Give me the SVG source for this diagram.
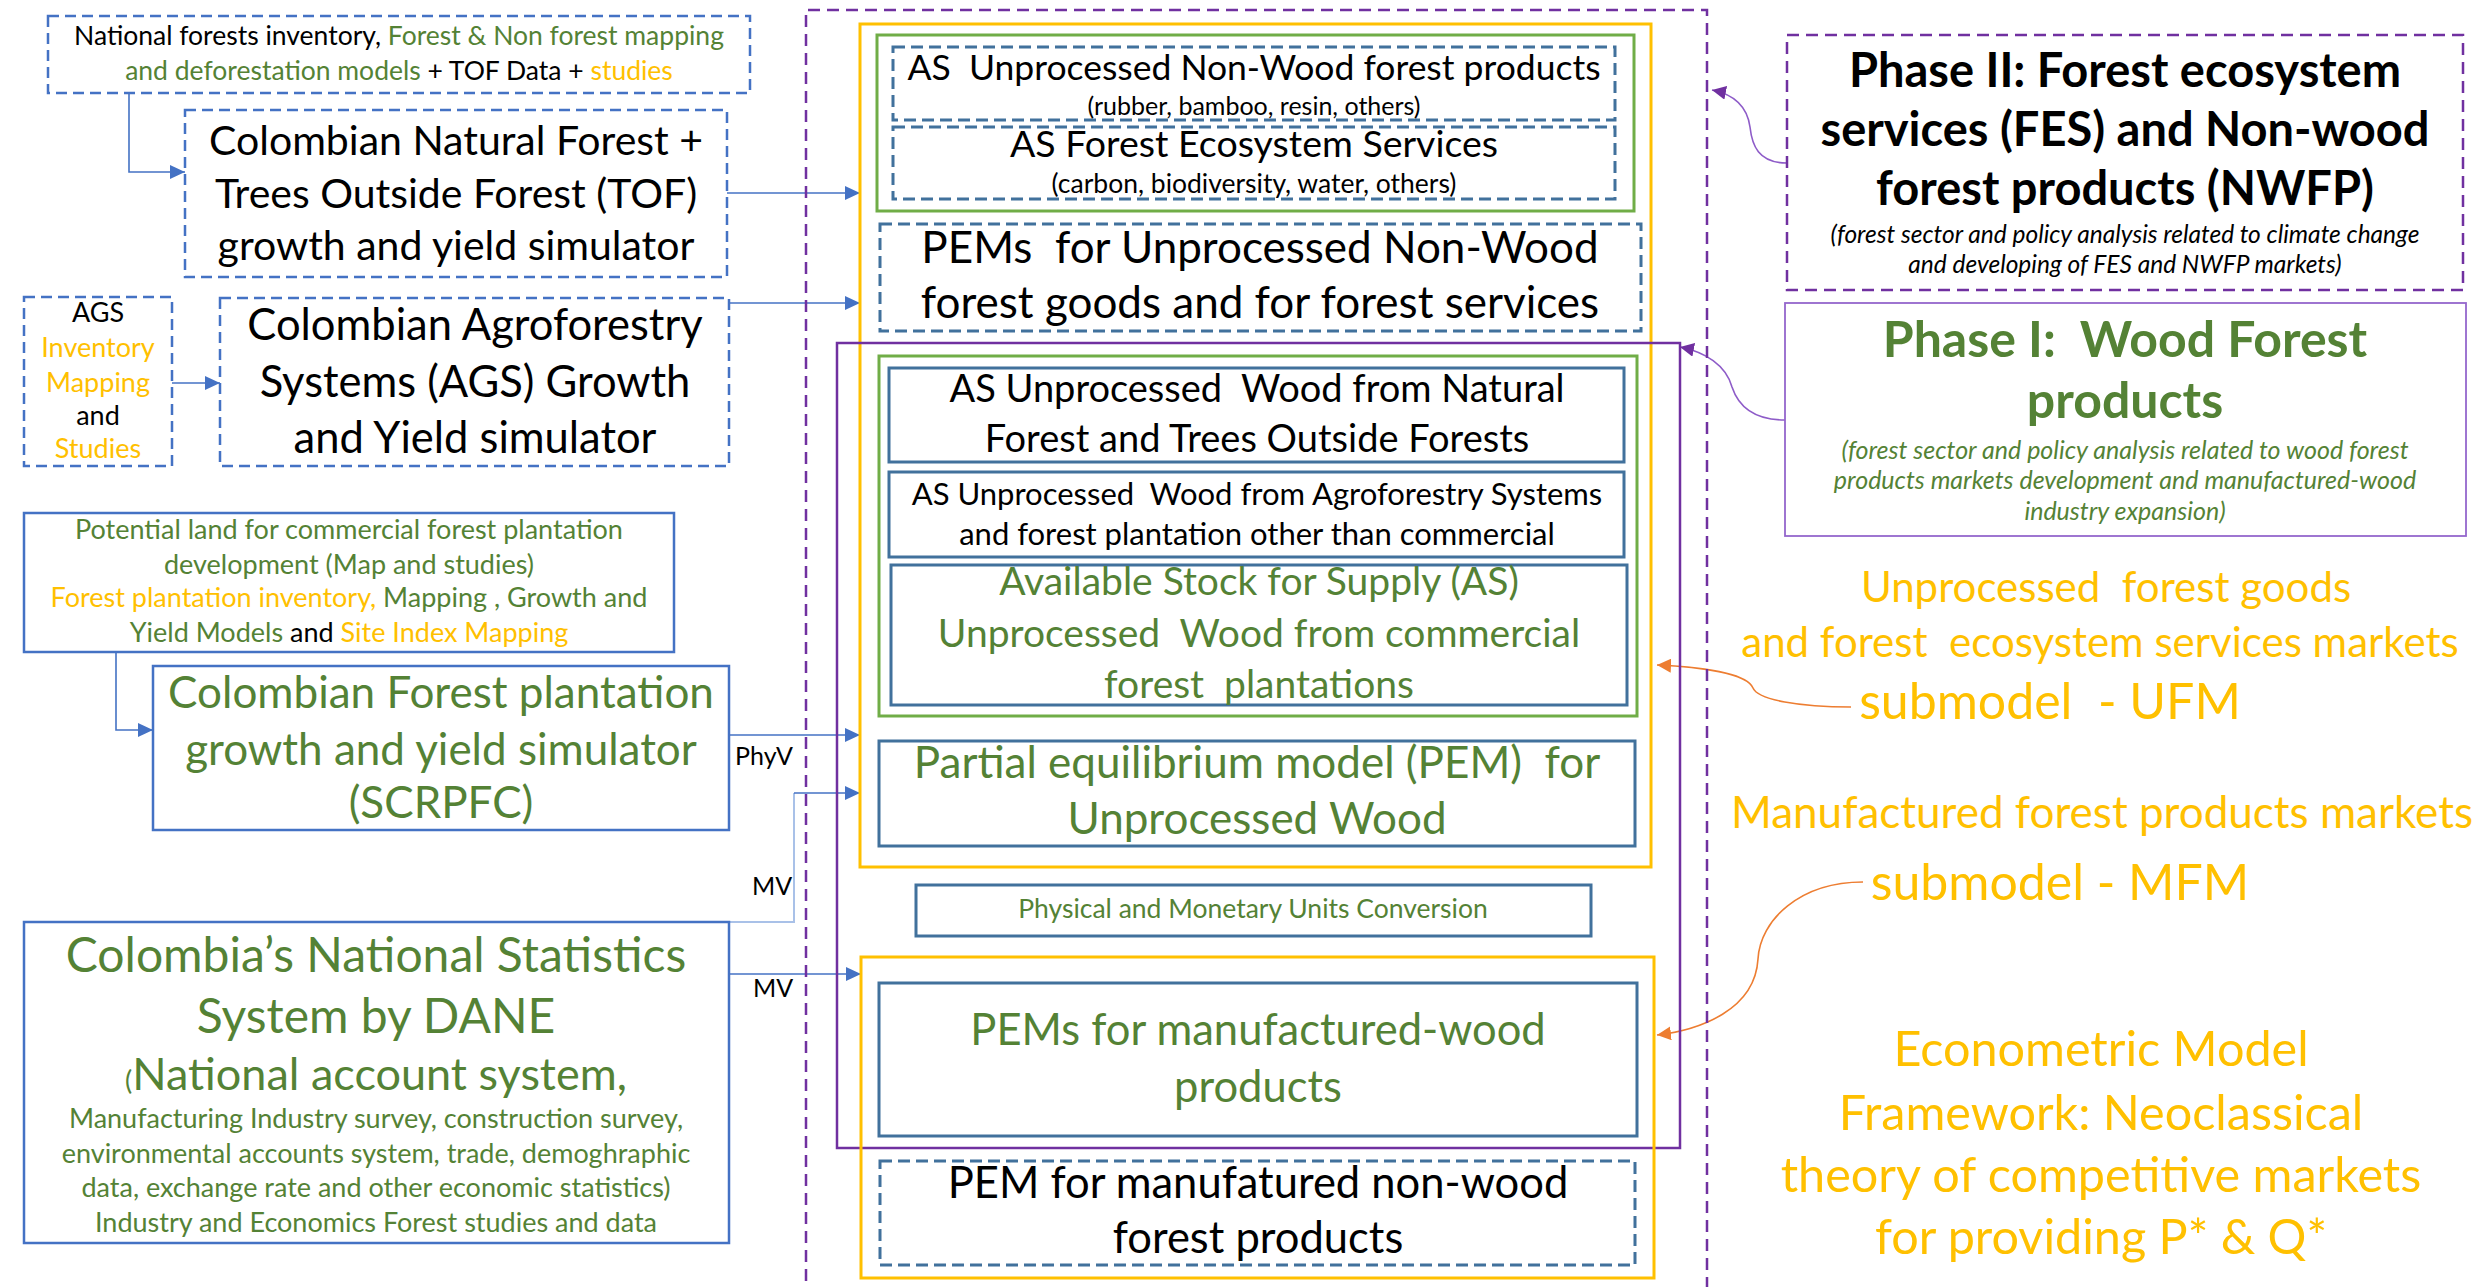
<svg xmlns="http://www.w3.org/2000/svg" width="2486" height="1287" viewBox="0 0 2486 1287">
<style>
text{font-family:Lato,"Liberation Sans",sans-serif;text-anchor:middle}
.k{fill:#000}.g{fill:#548235}.y{fill:#FFC000}
.bd{fill:none;stroke:#4472C4;stroke-width:2.5;stroke-dasharray:11 6}
.bs{fill:none;stroke:#4472C4;stroke-width:2.5}
.sd{fill:none;stroke:#41719C;stroke-width:3;stroke-dasharray:12 6}
.ss{fill:none;stroke:#41719C;stroke-width:3}
.gr{fill:none;stroke:#70AD47;stroke-width:3}
.yb{fill:none;stroke:#FFC000;stroke-width:3}
.pd{fill:none;stroke:#7030A0;stroke-width:2.5;stroke-dasharray:12 7}
.ps{fill:none;stroke:#7030A0;stroke-width:2.5}
.pl{fill:none;stroke:#9466CC;stroke-width:1.8}
.c{fill:none;stroke:#4472C4;stroke-width:1.6;marker-end:url(#ab)}
.cp{fill:none;stroke:#8E5CC8;stroke-width:1.6;marker-end:url(#ap)}
.co{fill:none;stroke:#ED7D31;stroke-width:1.6;marker-end:url(#ao)}
.it{font-style:italic}
.b{font-weight:bold}
</style>
<defs>
<marker id="ab" markerUnits="userSpaceOnUse" markerWidth="16" markerHeight="16" refX="15" refY="8" orient="auto"><path d="M0,1 L15,8 L0,15 z" fill="#4472C4"/></marker>
<marker id="ap" markerUnits="userSpaceOnUse" markerWidth="16" markerHeight="14" refX="14" refY="7" orient="auto"><path d="M0,0 L14,7 L0,14 z" fill="#7030A0"/></marker>
<marker id="ao" markerUnits="userSpaceOnUse" markerWidth="16" markerHeight="14" refX="14" refY="7" orient="auto"><path d="M0,0 L14,7 L0,14 z" fill="#ED7D31"/></marker>
</defs>
<rect width="2486" height="1287" fill="#fff"/>

<g id="connectors">
<path class="c" d="M129,93 V172 H185"/>
<path class="c" d="M172,383 H220"/>
<path class="c" d="M116,652 V730 H153"/>
<path class="c" d="M727,193 H860"/>
<path class="c" d="M729,303 H860"/>
<path class="c" d="M729,735 H860"/>
<path fill="none" stroke="#A9C1E8" stroke-width="2" d="M729,922 H794 V793"/>
<path class="c" d="M794,793 H860"/>
<path class="c" d="M729,974 H861"/>
<path class="cp" d="M1787,163 C1758,163 1752,145 1750,127 C1747,105 1732,94 1712,90"/>
<path class="cp" d="M1785,420 C1752,420 1738,405 1732,387 C1726,365 1705,352 1680,347"/>
<path class="co" d="M1851,707 C1800,707 1758,700 1753,688 C1747,673 1700,667 1657,665"/>
<path class="co" d="M1863,882 C1800,882 1760,920 1758,959 C1755,1010 1700,1030 1657,1035"/>
<text class="k" x="764" y="765" font-size="25">PhyV</text>
<text class="k" x="772" y="895" font-size="25">MV</text>
<text class="k" x="773" y="997" font-size="25">MV</text>
</g>

<g id="phase2-scope"><path class="pd" d="M806,1300 V10 H1707 V1300"/></g>

<g id="nfi-data">
<rect class="bd" x="48" y="16" width="702" height="77"/>
<text x="399" y="45" font-size="26.5"><tspan class="k">National forests inventory, </tspan><tspan class="g">Forest &amp; Non forest mapping</tspan></text>
<text x="399" y="80" font-size="26.5"><tspan class="g">and deforestation models</tspan><tspan class="k"> + TOF Data + </tspan><tspan class="y">studies</tspan></text>
</g>

<g id="tof-sim">
<rect class="bd" x="185" y="110" width="542" height="167"/>
<text class="k" x="456" y="155" font-size="41">Colombian Natural Forest +</text>
<text class="k" x="456" y="208" font-size="41">Trees Outside Forest (TOF)</text>
<text class="k" x="456" y="260" font-size="41">growth and yield simulator</text>
</g>

<g id="ags-data">
<rect class="bd" x="24" y="297" width="148" height="169"/>
<text class="k" x="98" y="322" font-size="27">AGS</text>
<text class="y" x="98" y="357" font-size="27">Inventory</text>
<text class="y" x="98" y="392" font-size="27">Mapping</text>
<text class="k" x="98" y="425" font-size="27">and</text>
<text class="y" x="98" y="458" font-size="27">Studies</text>
</g>

<g id="ags-sim">
<rect class="bd" x="220" y="298" width="509" height="168"/>
<text class="k" x="475" y="340" font-size="43.5">Colombian Agroforestry</text>
<text class="k" x="475" y="397" font-size="43.5">Systems (AGS) Growth</text>
<text class="k" x="475" y="453" font-size="43.5">and Yield simulator</text>
</g>

<g id="plantation-data">
<rect class="bs" x="24" y="513" width="650" height="139"/>
<text class="g" x="349" y="539" font-size="27">Potential land for commercial  forest plantation</text>
<text class="g" x="349" y="574" font-size="27">development (Map and studies)</text>
<text x="349" y="607" font-size="27"><tspan class="y">Forest plantation inventory,</tspan><tspan class="g">  Mapping , Growth and</tspan></text>
<text x="349" y="642" font-size="27"><tspan class="g">Yield Models</tspan><tspan class="k"> and </tspan><tspan class="y">Site Index Mapping</tspan></text>
</g>

<g id="plantation-sim">
<rect class="bs" x="153" y="666" width="576" height="164"/>
<text class="g" x="441" y="708" font-size="44">Colombian Forest plantation</text>
<text class="g" x="441" y="765" font-size="44">growth and yield simulator</text>
<text class="g" x="441" y="818" font-size="44">(SCRPFC)</text>
</g>

<g id="dane">
<rect class="bs" x="24" y="922" width="705" height="321"/>
<text class="g" x="376" y="972" font-size="48">Colombia’s National Statistics</text>
<text class="g" x="376" y="1033" font-size="48">System by DANE</text>
<text class="g" x="376" y="1090"><tspan font-size="27">(</tspan><tspan font-size="45">National account system,</tspan></text>
<text class="g" x="376" y="1128" font-size="27">Manufacturing Industry survey, construction survey,</text>
<text class="g" x="376" y="1163" font-size="27">environmental accounts system, trade, demoghraphic</text>
<text class="g" x="376" y="1197" font-size="27">data, exchange rate and other economic statistics)</text>
<text class="g" x="376" y="1232" font-size="27">Industry and Economics Forest studies and data</text>
</g>

<g id="ufm-scope"><rect class="yb" x="860" y="24" width="791" height="843"/></g>
<g id="as-nonwood-group"><rect class="gr" x="877" y="35" width="757" height="176"/></g>

<g id="as-nwfp">
<rect class="sd" x="893" y="47" width="722" height="73"/>
<text class="k" x="1254" y="80" font-size="35.5" xml:space="preserve">AS  Unprocessed Non-Wood forest products</text>
<text class="k" x="1254" y="115" font-size="25">(rubber, bamboo, resin, others)</text>
</g>

<g id="as-fes">
<rect class="sd" x="893" y="127" width="722" height="72"/>
<text class="k" x="1254" y="157" font-size="37.5">AS Forest Ecosystem Services</text>
<text class="k" x="1254" y="193" font-size="26.5">(carbon, biodiversity, water, others)</text>
</g>

<g id="pem-nonwood">
<rect class="sd" x="880" y="224" width="761" height="107"/>
<text class="k" x="1260" y="263" font-size="44" xml:space="preserve">PEMs  for Unprocessed Non-Wood</text>
<text class="k" x="1260" y="318" font-size="44">forest goods and for forest services</text>
</g>

<g id="phase1-scope"><rect class="ps" x="837" y="343" width="843" height="805"/></g>
<g id="as-wood-group"><rect class="gr" x="879" y="356" width="758" height="360"/></g>

<g id="as-natural">
<rect class="ss" x="889" y="368" width="735" height="94"/>
<text class="k" x="1257" y="402" font-size="38" xml:space="preserve">AS Unprocessed  Wood from Natural</text>
<text class="k" x="1257" y="452" font-size="38">Forest and Trees Outside Forests</text>
</g>

<g id="as-agroforestry">
<rect class="ss" x="889" y="472" width="735" height="85"/>
<text class="k" x="1257" y="505" font-size="31" xml:space="preserve">AS Unprocessed  Wood from Agroforestry Systems</text>
<text class="k" x="1257" y="545" font-size="31">and forest plantation other than commercial</text>
</g>

<g id="as-commercial">
<rect class="ss" x="891" y="565" width="736" height="140"/>
<text class="g" x="1259" y="595" font-size="39">Available Stock for Supply (AS)</text>
<text class="g" x="1259" y="647" font-size="39" xml:space="preserve">Unprocessed  Wood from commercial</text>
<text class="g" x="1259" y="698" font-size="39" xml:space="preserve">forest  plantations</text>
</g>

<g id="pem-wood">
<rect class="ss" x="879" y="741" width="756" height="105"/>
<text class="g" x="1257" y="778" font-size="44" xml:space="preserve">Partial equilibrium model (PEM)  for</text>
<text class="g" x="1257" y="834" font-size="44">Unprocessed Wood</text>
</g>

<g id="conversion">
<rect class="ss" x="916" y="885" width="675" height="51"/>
<text class="g" x="1253" y="918" font-size="26.5">Physical and Monetary Units Conversion</text>
</g>

<g id="mfm-scope"><rect class="yb" x="861" y="957" width="793" height="321"/></g>

<g id="pem-manufactured">
<rect class="ss" x="879" y="983" width="758" height="153"/>
<text class="g" x="1258" y="1045" font-size="43.5">PEMs for manufactured-wood</text>
<text class="g" x="1258" y="1102" font-size="43.5">products</text>
</g>

<g id="pem-nonwood-manufactured">
<rect class="sd" x="880" y="1161" width="755" height="104"/>
<text class="k" x="1258" y="1198" font-size="43.5">PEM for manufatured non-wood</text>
<text class="k" x="1258" y="1253" font-size="43.5">forest products</text>
</g>

<g id="phase2">
<rect class="pd" x="1787" y="35" width="676" height="255"/>
<text class="k b" x="2125" y="87" font-size="47">Phase II: Forest ecosystem</text>
<text class="k b" x="2125" y="146" font-size="47">services (FES) and Non-wood</text>
<text class="k b" x="2125" y="205" font-size="47">forest products (NWFP)</text>
<text class="k it" x="2125" y="243" font-size="24.5">(forest sector and policy analysis related to climate change</text>
<text class="k it" x="2125" y="273" font-size="24.5">and developing of FES and NWFP markets)</text>
</g>

<g id="phase1">
<rect class="pl" x="1785" y="303" width="681" height="233"/>
<text class="g b" x="2125" y="357" font-size="50" xml:space="preserve">Phase I:  Wood Forest</text>
<text class="g b" x="2125" y="418" font-size="50">products</text>
<text class="g it" x="2125" y="459" font-size="25">(forest sector and policy analysis related to wood forest</text>
<text class="g it" x="2125" y="489" font-size="25">products markets development and manufactured-wood</text>
<text class="g it" x="2125" y="520" font-size="25">industry expansion)</text>
</g>

<g id="ufm-label">
<text class="y" x="2106" y="602" font-size="42" xml:space="preserve">Unprocessed  forest goods</text>
<text class="y" x="2100" y="657" font-size="42" xml:space="preserve">and forest  ecosystem services markets</text>
<text class="y" x="2050" y="719" font-size="50" xml:space="preserve">submodel  - UFM</text>
</g>

<g id="mfm-label">
<text class="y" x="2102" y="828" font-size="44">Manufactured forest products markets</text>
<text class="y" x="2060" y="900" font-size="50">submodel - MFM</text>
</g>

<g id="econometric-label">
<text class="y" x="2101" y="1066" font-size="48.5">Econometric Model</text>
<text class="y" x="2101" y="1130" font-size="48.5">Framework: Neoclassical</text>
<text class="y" x="2101" y="1192" font-size="48.5">theory of competitive markets</text>
<text class="y" x="2101" y="1254" font-size="48.5">for providing P* &amp; Q*</text>
</g>
</svg>
